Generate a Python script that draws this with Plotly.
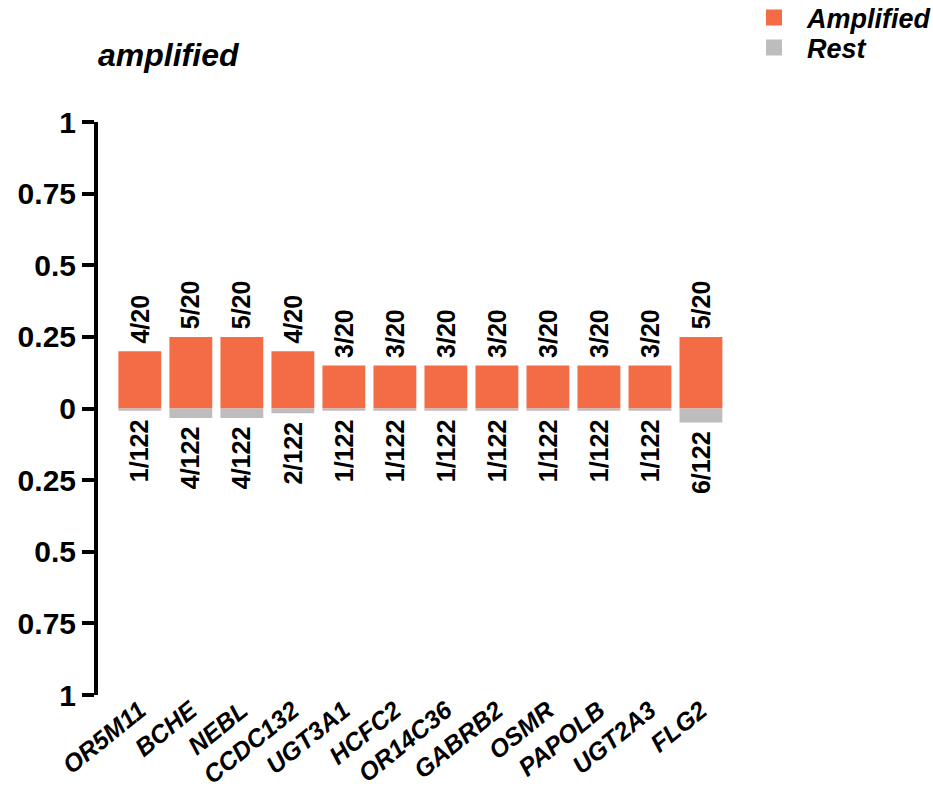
import plotly.graph_objects as go

genes = ["OR5M11", "BCHE", "NEBL", "CCDC132", "UGT3A1", "HCFC2",
         "OR14C36", "GABRB2", "OSMR", "PAPOLB", "UGT2A3", "FLG2"]
amplified_counts = [4, 5, 5, 4, 3, 3, 3, 3, 3, 3, 3, 5]
amplified_total = 20
rest_counts = [1, 4, 4, 2, 1, 1, 1, 1, 1, 1, 1, 6]
rest_total = 122

y_tick_vals = [1, 0.75, 0.5, 0.25, 0, -0.25, -0.5, -0.75, -1]
y_tick_text = ["1", "0.75", "0.5", "0.25", "0", "0.25", "0.5", "0.75", "1"]

amp_frac = [c / amplified_total for c in amplified_counts]
rest_frac = [-c / rest_total for c in rest_counts]
amp_labels = [f"{c}/{amplified_total}" for c in amplified_counts]
rest_labels = [f"{c}/{rest_total}" for c in rest_counts]

FONT = "Liberation Sans, Arial, sans-serif"
ORANGE = "#F36C45"
GREY = "#BDBDBD"
BAR_TEXT = dict(family=FONT, size=25, color="black", weight="bold")
LEGEND_FONT = dict(family=FONT, size=27, color="black", weight="bold", style="italic")

fig = go.Figure()
fig.add_trace(go.Bar(
    x=genes, y=amp_frac, name="Amplified", marker_color=ORANGE,
    marker_line_width=0, width=0.84, showlegend=False,
))
fig.add_trace(go.Bar(
    x=genes, y=rest_frac, name="Rest", marker_color=GREY,
    marker_line_width=0, width=0.84, showlegend=False,
))
# legend keys with larger square symbols, one legend box per entry
for name, color, leg in [("Amplified", ORANGE, "legend"), ("Rest", GREY, "legend2")]:
    fig.add_trace(go.Scatter(
        x=[None], y=[None], mode="markers", name=name, legend=leg,
        marker=dict(symbol="square", size=18, color=color),
    ))

annotations = [dict(
    text="amplified", xref="paper", yref="paper", x=-0.003, y=1.117,
    xanchor="left", yanchor="middle", showarrow=False,
    font=dict(family=FONT, size=32, color="black", weight="bold", style="italic"),
)]
for g, v, t in zip(genes, amp_frac, amp_labels):
    annotations.append(dict(
        x=g, y=v, xref="x", yref="y", text=t, textangle=-90, showarrow=False,
        xanchor="center", yanchor="bottom", yshift=6, font=BAR_TEXT,
    ))
for g, v, t in zip(genes, rest_frac, rest_labels):
    annotations.append(dict(
        x=g, y=v, xref="x", yref="y", text=t, textangle=-90, showarrow=False,
        xanchor="center", yanchor="top", yshift=-6, font=BAR_TEXT,
    ))

legend_common = dict(
    xref="container", yref="container", x=741 / 933,
    xanchor="left", yanchor="middle", font=LEGEND_FONT,
    itemwidth=56, bgcolor="rgba(0,0,0,0)",
)

fig.update_layout(
    width=933, height=790,
    margin=dict(l=98, r=204, t=122, b=95, autoexpand=False),
    paper_bgcolor="white", plot_bgcolor="white",
    barmode="relative",
    font=dict(family=FONT, color="black"),
    showlegend=True,
    legend=dict(y=1 - 18 / 790, **legend_common),
    legend2=dict(y=1 - 48 / 790, **legend_common),
    annotations=annotations,
)

fig.update_xaxes(
    range=[-0.82, 11.55], showgrid=False, zeroline=False, showline=False,
    ticks="", tickangle=-39, automargin=False, ticklabelstandoff=-5,
    tickfont=dict(family=FONT, size=25, color="black", weight="bold", style="italic"),
)
fig.update_yaxes(
    range=[-1, 1], tickvals=y_tick_vals, ticktext=y_tick_text,
    showgrid=False, zeroline=False, showline=True, linecolor="black", linewidth=4,
    ticks="outside", ticklen=12, tickwidth=4, tickcolor="black", automargin=False,
    tickfont=dict(family=FONT, size=30, color="black", weight="bold"),
)

fig.write_html("out.html")
